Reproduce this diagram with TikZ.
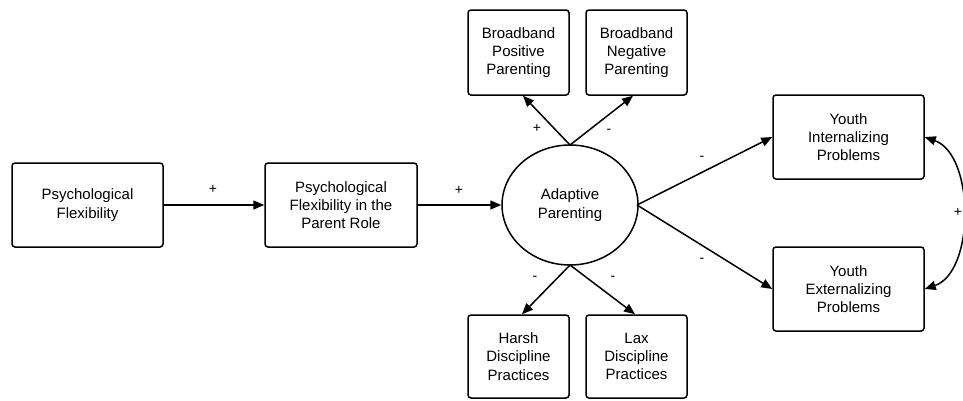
\documentclass[tikz,border=0pt]{standalone}
\usepackage{fontspec}
\setmainfont{Liberation Sans}
\usetikzlibrary{arrows.meta,shapes.geometric}
\begin{document}
\begin{tikzpicture}[x=1pt,y=-1pt,
  box/.style={draw,line width=1.5pt,rounded corners=3pt,align=center,inner sep=0pt,font=\fontsize{15}{18.3}\selectfont},
  arr/.style={line width=1.5pt,-{Triangle[length=11pt,width=9pt]}},
  lbl/.style={font=\fontsize{14}{16}\selectfont}]
\useasboundingbox (0,0) rectangle (963,400);
\node[box,minimum width=151pt,minimum height=84pt] (pf) at (87.5,205) {Psychological\\Flexibility};
\node[box,minimum width=152pt,minimum height=84pt] (pfp) at (341,205) {Psychological\\Flexibility in the\\Parent Role};
\node[draw,ellipse,line width=1.5pt,minimum width=136pt,minimum height=120pt,inner sep=0pt,align=center,font=\fontsize{15}{18.3}\selectfont] (ap) at (570,205) {Adaptive\\Parenting};
\node[box,minimum width=101pt,minimum height=85pt] (bpp) at (518.5,52.5) {Broadband\\Positive\\Parenting};
\node[box,minimum width=101pt,minimum height=85pt] (bnp) at (636.5,52.5) {Broadband\\Negative\\Parenting};
\node[box,minimum width=101pt,minimum height=83pt] (hd) at (518.5,356.5) {Harsh\\Discipline\\Practices};
\node[box,minimum width=101pt,minimum height=83pt] (ld) at (636.5,356.5) {Lax\\Discipline\\Practices};
\node[box,minimum width=151pt,minimum height=84pt] (yi) at (848.5,137) {Youth\\Internalizing\\Problems};
\node[box,minimum width=151pt,minimum height=84pt] (ye) at (848.5,289) {Youth\\Externalizing\\Problems};
\coordinate (apT) at (570,145);
\coordinate (apB) at (570,265);
\coordinate (apR) at (637,205);
\draw[arr] (pf.east) -- (pfp.west);
\draw[arr] (pfp.east) -- (ap.west);
\draw[arr] (apT) -- (bpp.south -| 523,0);
\draw[arr] (apT) -- (bnp.south -| 633,0);
\draw[arr] (apB) -- (hd.north -| 522,0);
\draw[arr] (apB) -- (ld.north -| 635,0);
\draw[arr] (apR) -- (yi.west);
\draw[arr] (apR) -- (ye.west);
\draw[line width=1.5pt,{Triangle[length=11pt,width=9pt]}-{Triangle[length=11pt,width=9pt]}] (yi.east) .. controls (975,155) and (975,272) .. (ye.east);
\node[lbl] (l1) at (213,189) {+};
\node[lbl] (l2) at (459,190) {+};
\node[lbl] (l3) at (537,128) {+};
\node[lbl] (l4) at (609,131) {-};
\node[lbl] (l5) at (535,278) {-};
\node[lbl] (l6) at (613,278) {-};
\node[lbl] (l7) at (702,158) {-};
\node[lbl] (l8) at (702,260) {-};
\node[lbl] (l9) at (958,212) {+};
\end{tikzpicture}
\end{document}
